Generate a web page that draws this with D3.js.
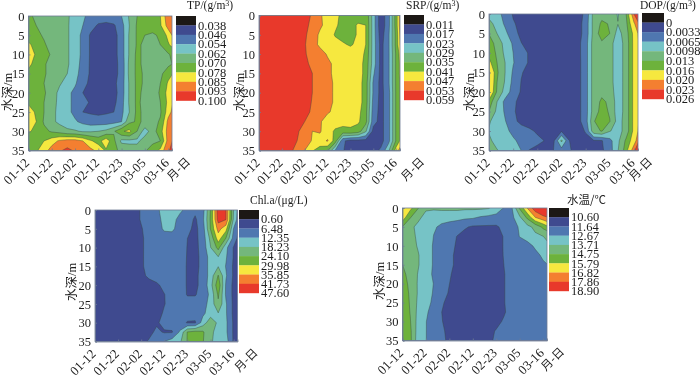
<!DOCTYPE html>
<html><head><meta charset="utf-8">
<script src="https://d3js.org/d3.v7.min.js"></script>
<style>
html,body{margin:0;padding:0;background:#fff}
svg{display:block;filter:blur(0.3px)}
text{font-family:"Liberation Serif","Times New Roman",serif;fill:#1d1d1d}
.cjk{font-family:"Noto Sans CJK SC",sans-serif}
</style></head><body>
<svg id="c" width="700" height="376"></svg>
<script>
// bands (low to high); first colour lies below the first level
const bandColors=["#1c1815","#3f4a8f","#4f77b0","#76c3c6","#74b77c","#6db23c","#f6e83f","#f47f30","#e8392b"];
const dateLabels=["01-12","01-22","02-02","02-12","02-23","03-05","03-16"];
const dateLabelsDop=["01-12","01-22","02-22","02-02","02-23","03-05","03-16"];
const depthTicks=[0,5,10,15,20,25,30,35];

const tpLabels=["0.038","0.046","0.054","0.062","0.070","0.078","0.085","0.093","0.100"];
const tpLevels=[38,46,54,62,70,78,85,93,100];
const srpLabels=["0.011","0.017","0.023","0.029","0.035","0.041","0.047","0.053","0.059"];
const srpLevels=[11,17,23,29,35,41,47,53,59];
const dopLabels=["0","0.0033","0.0065","0.0098","0.013","0.016","0.020","0.023","0.026"];
const dopLevels=[0,3.3,6.5,9.8,13,16,20,23,26];
const chlLabels=["0.60","6.48","12.35","18.23","24.10","29.98","35.85","41.73","47.60"];
const chlLevels=[0.6,6.48,12.35,18.23,24.1,29.98,35.85,41.73,47.6];
const tempLabels=["10.60","11.64","12.67","13.71","14.75","15.79","16.82","17.86","18.90"];
const tempLevels=[10.6,11.64,12.67,13.71,14.75,15.79,16.82,17.86,18.9];

// rows: depth 0,2.5,...,35 m; columns: every third of a date step. TP, SRP, DOP in mg/m3.
const tpGrid=[
[72,68,66,65,64,63,59,55,52,50,50,51,54,63,70,73,76,78,90,96],
[74,70,67,65,64,63,58,54,49,45,44,45,51,62,71,74,76,77,88,94],
[73,72,69,66,64,63,58,52,45,43,42,43,50,63,71,70,68,72,80,90],
[80,74,71,67,65,63,58,52,45,43,42,43,50,63,71,69,67,70,77,83],
[82,77,73,69,65,63,58,52,45,43,42,43,50,63,72,68,65,65,69,74],
[80,75,71,67,65,63,58,51,45,43,42,43,49,64,72,68,66,66,68,72],
[76,73,71,67,64,62,57,50,45,43,42,43,49,64,72,69,66,68,75,80],
[75,73,70,66,63,59,55,49,44,42,42,44,50,63,72,69,66,70,79,85],
[78,75,71,66,60,56,52,46,43,42,42,43,50,63,72,68,66,71,81,88],
[77,73,70,65,60,56,52,49,45,42,42,44,51,63,72,67,66,70,80,88],
[81,77,70,64,60,56,52,46,45,44,45,46,52,62,72,68,66,69,82,90],
[81,78,69,64,60,57,55,52,50,50,50,51,54,68,71,69,67,71,87,92],
[79,76,72,69,67,64,63,61,61,62,64,69,77,80,70,58,66,75,88,95],
[72,75,78,82,86,88,88,85,79,75,83,72,60,60,60,66,68,70,88,97],
[72,77,82,88,92,95,92,90,87,83,77,72,68,66,66,69,74,80,92,98]];
const srpGrid=[
[60,60,60,60,60,59,56,52,48,44,42,40,38,37,40,26,13,21,38,60],
[60,60,60,60,60,58,55,51,48,45,42,39,38,42,41,26,13,21,38,60],
[60,60,60,60,60,57,54,50,46,44,40.5,38,38,42,41,26,14,22,37,58],
[60,60,60,60,60,57,53.5,49,46,44,43,42,40,43,41,26,15,22,37,56],
[60,60,60,60,60,57,53.5,51,49,46.5,45,45,45,44,40,26,15,22,36,50],
[60,60,60,60,60,58,54,52,50,48,46,45,45,44,39,26,15,22,36,48],
[60,60,60,60,60,58,56,53,51,48,46,45,45,44,39,24,15,22,36,48],
[60,60,60,60,60,59,56,53,51,49,46,45,45,44,38,22,15,22,36,47],
[60,60,60,60,60,59,56,53,51,49,46,45,45,44,38,22,15,21,36,47],
[60,60,60,60,60,58,56,52.5,51,49,46,45,45,44,38,21,15,21,36,47],
[60,60,60,60,60,58,55,52,50,47.5,46,45,45,43,37,20,15,21,36,47],
[60,60,60,60,60,57,53,50,47.5,45,44,43,42.5,42,37,19,15,21,36,47],
[60,60,60,60,58,54,50,47,47.5,44,40,39,40,38,30,15,15,21,36,47],
[60,60,60,60,57,53,50,46.5,45,47.5,38,18,15,15,15,16,15,21,36,47],
[60,60,60,60,54.5,51,47,41.5,38,35.5,22.5,17.5,14,14,14,15,18,28,44,55]];
const dopGrid=[
[8.5,7.5,5.5,3,2,1.5,1.5,1.5,1.5,1.5,1.5,2,4,11,12,12.5,9.5,12.7,23,27],
[11,8.5,6,3.6,2.5,2,2,2,2,2,2,2,4.5,11,13.5,12.8,9.9,12,19.5,25],
[12.8,9.8,7.3,4.5,2.5,2,2,2,2,2,2,2,4.5,11,14.5,13,8.5,11.5,17,23],
[15,11.5,8.8,6,3.4,2,2,2,2,2,2,2.3,5,11.5,12.5,11,8,11,17,22],
[15,12.5,9,6.5,4.5,3,2,2,2,2,2,2.3,5,11.5,12,11,8,11,17,22],
[17,13,9.8,6.7,4.5,3,2,2,2,2,2,2.2,5,11.5,11.5,11,8,11,17,22],
[20.5,13.5,9.8,6,3.5,2.5,2,2,2,2,2,2.2,5,11.5,11.5,11,8,11,17,22],
[20.5,13,9.5,5.5,3.2,2.5,2,2,2,2,2,2.2,5,11.5,11.8,11,8,11,17,22],
[20,12.5,8.5,5,3,2.5,2,2,2,2,2,2.2,5,11.5,12.3,11.5,8,11,17,22],
[15,9.8,5.5,3.8,2.5,2,2,2,2,2,2,2.2,5,11.5,13.5,12.5,8,11,17,22],
[13,9,6,3.6,2.5,2,2,2,2,2,2,2.2,5,11.5,14,12.7,8,11,17,22],
[10.2,8.2,6.7,4,2.6,2.3,2,2,2,2,2,2.2,5,12.8,14.5,13.1,8.5,11,17,22],
[9.5,8,7,6,4.5,3.7,3,2.5,2.3,3,2.3,2.2,3.5,12,13.2,10,8.5,11,17,23],
[10.5,8.5,7.5,6.8,6,4.5,3.8,3.2,2.5,10.5,3.3,2.5,2.6,2.9,3.1,5.5,9,13.5,18,26],
[13,10,8.8,7.5,6.5,3.2,2.7,2.5,3.3,5,3.5,2.5,2.5,2.5,2.8,5,9.6,14.5,22.5,27]];
const chlGrid=[
[3,3,3,3,3,4,7,9,11.5,14,17,13.3,11,8,10,24.5,45,42,18,5],
[3,3,3,3,3,4,7,9,11,13.5,14,11,9.5,5.5,11,25,44,42,17,5],
[3,3,3,3,3,4,6,9,10.5,13,13,11,8,5,9.5,24.5,38,32,12,3],
[3,3,3,3,3,4,5.8,8,10,10.5,11,10,6.5,5,9,20,33,24,10,2],
[3,3,3,3,3,4,5.8,8,10,10.5,10.5,10,6.2,5,8.5,18,26,14,6,1],
[3,3,3,3,3,4,5.6,8.5,11,11,11,10,6,5,8,15,18,13,6,1],
[3,3,3,3,3,4,5.8,8,10,11,11,9,6,5,8,15,18,12,5.5,1],
[3,3,3,3,3,4,5.5,7.2,9,11,11,9,6,5.5,8,15,24.5,13,5.5,1],
[3,3,3,3,3,3,4,5,5.5,8,10,9,6,5.5,8,16,28,11.5,5,1],
[3,3,3,3,3,3,3.5,4,5,6.3,9,8.5,6.2,6.2,8,14,25,11.5,5,1],
[3,3,3,3,3,3,3.5,4,5,6.3,8,8.5,8,8,10,14.5,23,13,5,1],
[3,3,3,3,3,3,3.5,4,5,7,8,9,9,9,11,15.5,18,13,5,1],
[3,3,3,3,3,3,3.5,4,5.8,8,9,9,6,5.8,15,22,17,13.5,5.5,1],
[3,3,3,3,3,3,3.5,5,7.5,6,6,13,24.5,26,25,19,17,13.5,5.5,1],
[3,3,3,3,3,3,5,7,9,12.4,15,17,24.5,26,24.5,19,16,15,5.5,1]];
const tempGrid=[
[16.6,16.1,14.8,13.9,13.9,14,14,14,13.9,13.9,13.9,13.8,13.3,12.6,12.6,14.9,16.9,18.5,19.5,19.5],
[16.4,14.8,14,13.3,13,12.9,12.9,12.9,12.85,12.8,12.55,12.4,12.3,12.1,12.4,13.5,15,16.8,17.5,18],
[14.7,14,13.4,13,12.75,12.55,12.4,12.2,11.75,11.5,11.5,11.5,11.5,11.9,12.2,12.8,13.4,14,15,16],
[14.5,14.1,13.5,13.1,12.65,12.4,12.1,11.6,11.3,11.3,11.3,11.3,11.3,11.7,12.1,12.7,13,13.5,13.7,14],
[14.6,14.2,13.6,13,12.6,12.3,12,11.5,11.2,11.2,11.2,11.2,11.3,11.7,12,12.2,12.4,12.8,13.1,13.7],
[14.7,14.2,13.8,13,12.6,12.2,11.9,11.4,11.1,11.1,11.1,11.1,11.2,11.7,12,12.2,12.3,12.45,12.8,13.1],
[14.75,14.3,13.8,13,12.6,12.2,11.9,11.4,11.1,11.1,11.1,11.1,11.2,11.65,12,12.1,12.2,12.3,12.55,12.75],
[15,14.4,13.65,13,12.55,12.1,11.75,11.3,11.1,11.1,11.1,11.1,11.2,11.6,12,12.1,12.2,12.2,12.3,12.4],
[15.2,14.5,13.6,13,12.65,12,11.65,11.2,11.1,11.1,11.1,11.1,11.2,11.6,12,12.1,12.2,12.2,12.2,12.2],
[15.3,14.6,13.6,13,12.6,12,11.55,11.1,11.1,11.1,11.1,11.1,11.2,11.6,12,12.1,12.2,12.2,12.2,12.2],
[15.4,14.65,13.5,12.95,12.5,11.8,11.3,11.1,11.1,11.1,11.1,11.1,11.2,11.6,12,12.1,12.2,12.2,12.2,12.2],
[15.5,14.7,13.4,12.85,12.2,11.65,11.2,11.1,11.1,11.1,11.1,11.1,11.2,11.55,12,12.1,12.2,12.2,12.2,12.2],
[15.5,14.8,13.3,12.7,12.2,11.7,11.25,11.1,11.1,11.1,11.1,11.1,11.4,11.75,12,12.1,12.2,12.2,12.2,12.2],
[15.5,14.95,13.2,12.7,12.15,11.8,11.4,11.2,11.1,11.1,11.1,11.4,11.7,11.95,12,12.1,12.2,12.2,12.2,12.2],
[15.5,15,13.1,12.7,12.1,11.8,11.5,11.3,11.2,11.2,11.3,11.5,11.75,12,12,12.1,12.2,12.2,12.2,12.2]];

const panels=[
 {grid:tpGrid,levels:tpLevels,labels:tpLabels,dates:dateLabels,box:[28.5,172,16,150.5],leg:[176,16,20,84.6],titleX:187,titleY:9,unit:"TP/(g/m",sup:"3",tail:")",ytx:8,ytc:92,end:16},
 {grid:srpGrid,levels:srpLevels,labels:srpLabels,dates:dateLabels,box:[259,400,15.5,150.5],leg:[404,15,20,85],titleX:406,titleY:9,unit:"SRP/(g/m",sup:"3",tail:")",ytx:240,ytc:92,end:22},
 {grid:dopGrid,levels:dopLevels,labels:dopLabels,dates:dateLabelsDop,box:[489,638,14,150.5],leg:[642,13,22,86],titleX:640,titleY:9,unit:"DOP/(g/m",sup:"3",tail:")",ytx:470,ytc:92,end:12},
 {grid:chlGrid,levels:chlLevels,labels:chlLabels,dates:dateLabels,box:[95,237.5,210,341.5],leg:[239,210,20,83],titleX:250,titleY:204,unit:"Chl.a/(μg/L)",ytx:72,ytc:282,end:18},
 {grid:tempGrid,levels:tempLevels,labels:tempLabels,dates:dateLabels,box:[402.5,547,208,340.5],leg:[549,208,20,83],titleX:567,titleY:204,unit:"水温/℃",cjk:true,ytx:380,ytc:281,end:15}
];

const svg=d3.select("#c");
const axisColor="#6f7c94";
panels.forEach((p,pi)=>{
  const [x0,x1,y0,y1]=p.box;
  const rows=p.grid.length, cols=p.grid[0].length;
  const x=d3.scaleLinear().domain([0,6.1667]).range([x0,x1]);
  const y=d3.scaleLinear().domain([0,35]).range([y0,y1]);
  const g=svg.append("g");
  const clipId="clip"+pi;
  svg.append("clipPath").attr("id",clipId).append("rect")
    .attr("x",x0).attr("y",y0).attr("width",x1-x0).attr("height",y1-y0);
  const plot=g.append("g").attr("clip-path",`url(#${clipId})`);
  const contours=d3.contours().size([cols,rows]).thresholds(p.levels.slice(0,8))(p.grid.flat());
  const path=d3.geoPath(d3.geoTransform({point(a,b){
    this.stream.point(x((a-0.5)/3),y((b-0.5)*2.5));
  }}));
  plot.selectAll("path").data(contours).join("path")
    .attr("d",path)
    .attr("fill",(d,i)=>bandColors[i+1])
    .attr("stroke","#37463f").attr("stroke-width",0.5).attr("stroke-opacity",0.8);
  // axes
  const ax=d3.axisBottom(x).tickValues(d3.range(p.dates.length)).tickSize(-2).tickFormat(i=>p.dates[i]);
  const ay=d3.axisLeft(y).tickValues(depthTicks).tickSize(-2);
  const gx=g.append("g").attr("transform",`translate(0,${y1})`).call(ax);
  const gy=g.append("g").attr("transform",`translate(${x0},0)`).call(ay);
  gx.selectAll("text").attr("transform","translate(-2,10) rotate(-45)").attr("text-anchor","end")
    .attr("dy","0.35em").attr("y",0).attr("x",0).style("font-size","13px")
    .style("font-family",'"Liberation Serif",serif');
  gy.selectAll("text").attr("x",-4).attr("dy","0.34em").style("font-size","12.5px")
    .style("font-family",'"Liberation Serif",serif');
  g.selectAll(".domain,.tick line").attr("stroke",axisColor).attr("stroke-width",0.8);
  g.append("rect").attr("x",x0).attr("y",y0).attr("width",x1-x0).attr("height",y1-y0)
    .attr("fill","none").attr("stroke",axisColor).attr("stroke-width",0.8);
  // month-day caption
  g.append("text").attr("class","cjk")
    .attr("transform",`translate(${x1+p.end},${y1+9}) rotate(-45)`)
    .attr("text-anchor","end").attr("dy","0.35em").style("font-size","11.5px").text("月-日");
  // y title
  const yt=g.append("text").attr("transform",`translate(${p.ytx},${p.ytc}) rotate(-90)`)
    .attr("text-anchor","middle").attr("dy","0.35em").style("font-size","12.5px");
  yt.append("tspan").attr("class","cjk").text("水深");
  yt.append("tspan").text("/m");
  // legend
  const [lx,ly,lw,lh]=p.leg;
  const band=d3.scaleBand().domain(d3.range(bandColors.length)).range([ly,ly+lh]);
  g.selectAll(".leg").data(bandColors).join("rect").attr("class","leg")
    .attr("x",lx).attr("y",(d,i)=>band(i)).attr("width",lw).attr("height",band.bandwidth()+0.2)
    .attr("fill",d=>d);
  g.selectAll(".ll").data(p.labels).join("text").attr("class","ll")
    .attr("x",lx+lw+2).attr("y",(d,i)=>band(i)+band.bandwidth()).attr("dy","0.34em")
    .style("font-size","12.5px").text(d=>d);
  // legend title
  const t=g.append("text").attr("x",p.titleX).attr("y",p.titleY).style("font-size","11.5px");
  if(p.cjk){t.attr("class","cjk").text(p.unit);}
  else{
    t.append("tspan").text(p.unit);
    if(p.sup){t.append("tspan").attr("dy",-3).style("font-size","8px").text(p.sup);
      t.append("tspan").attr("dy",3).text(p.tail);}
  }
});
</script>
</body></html>
